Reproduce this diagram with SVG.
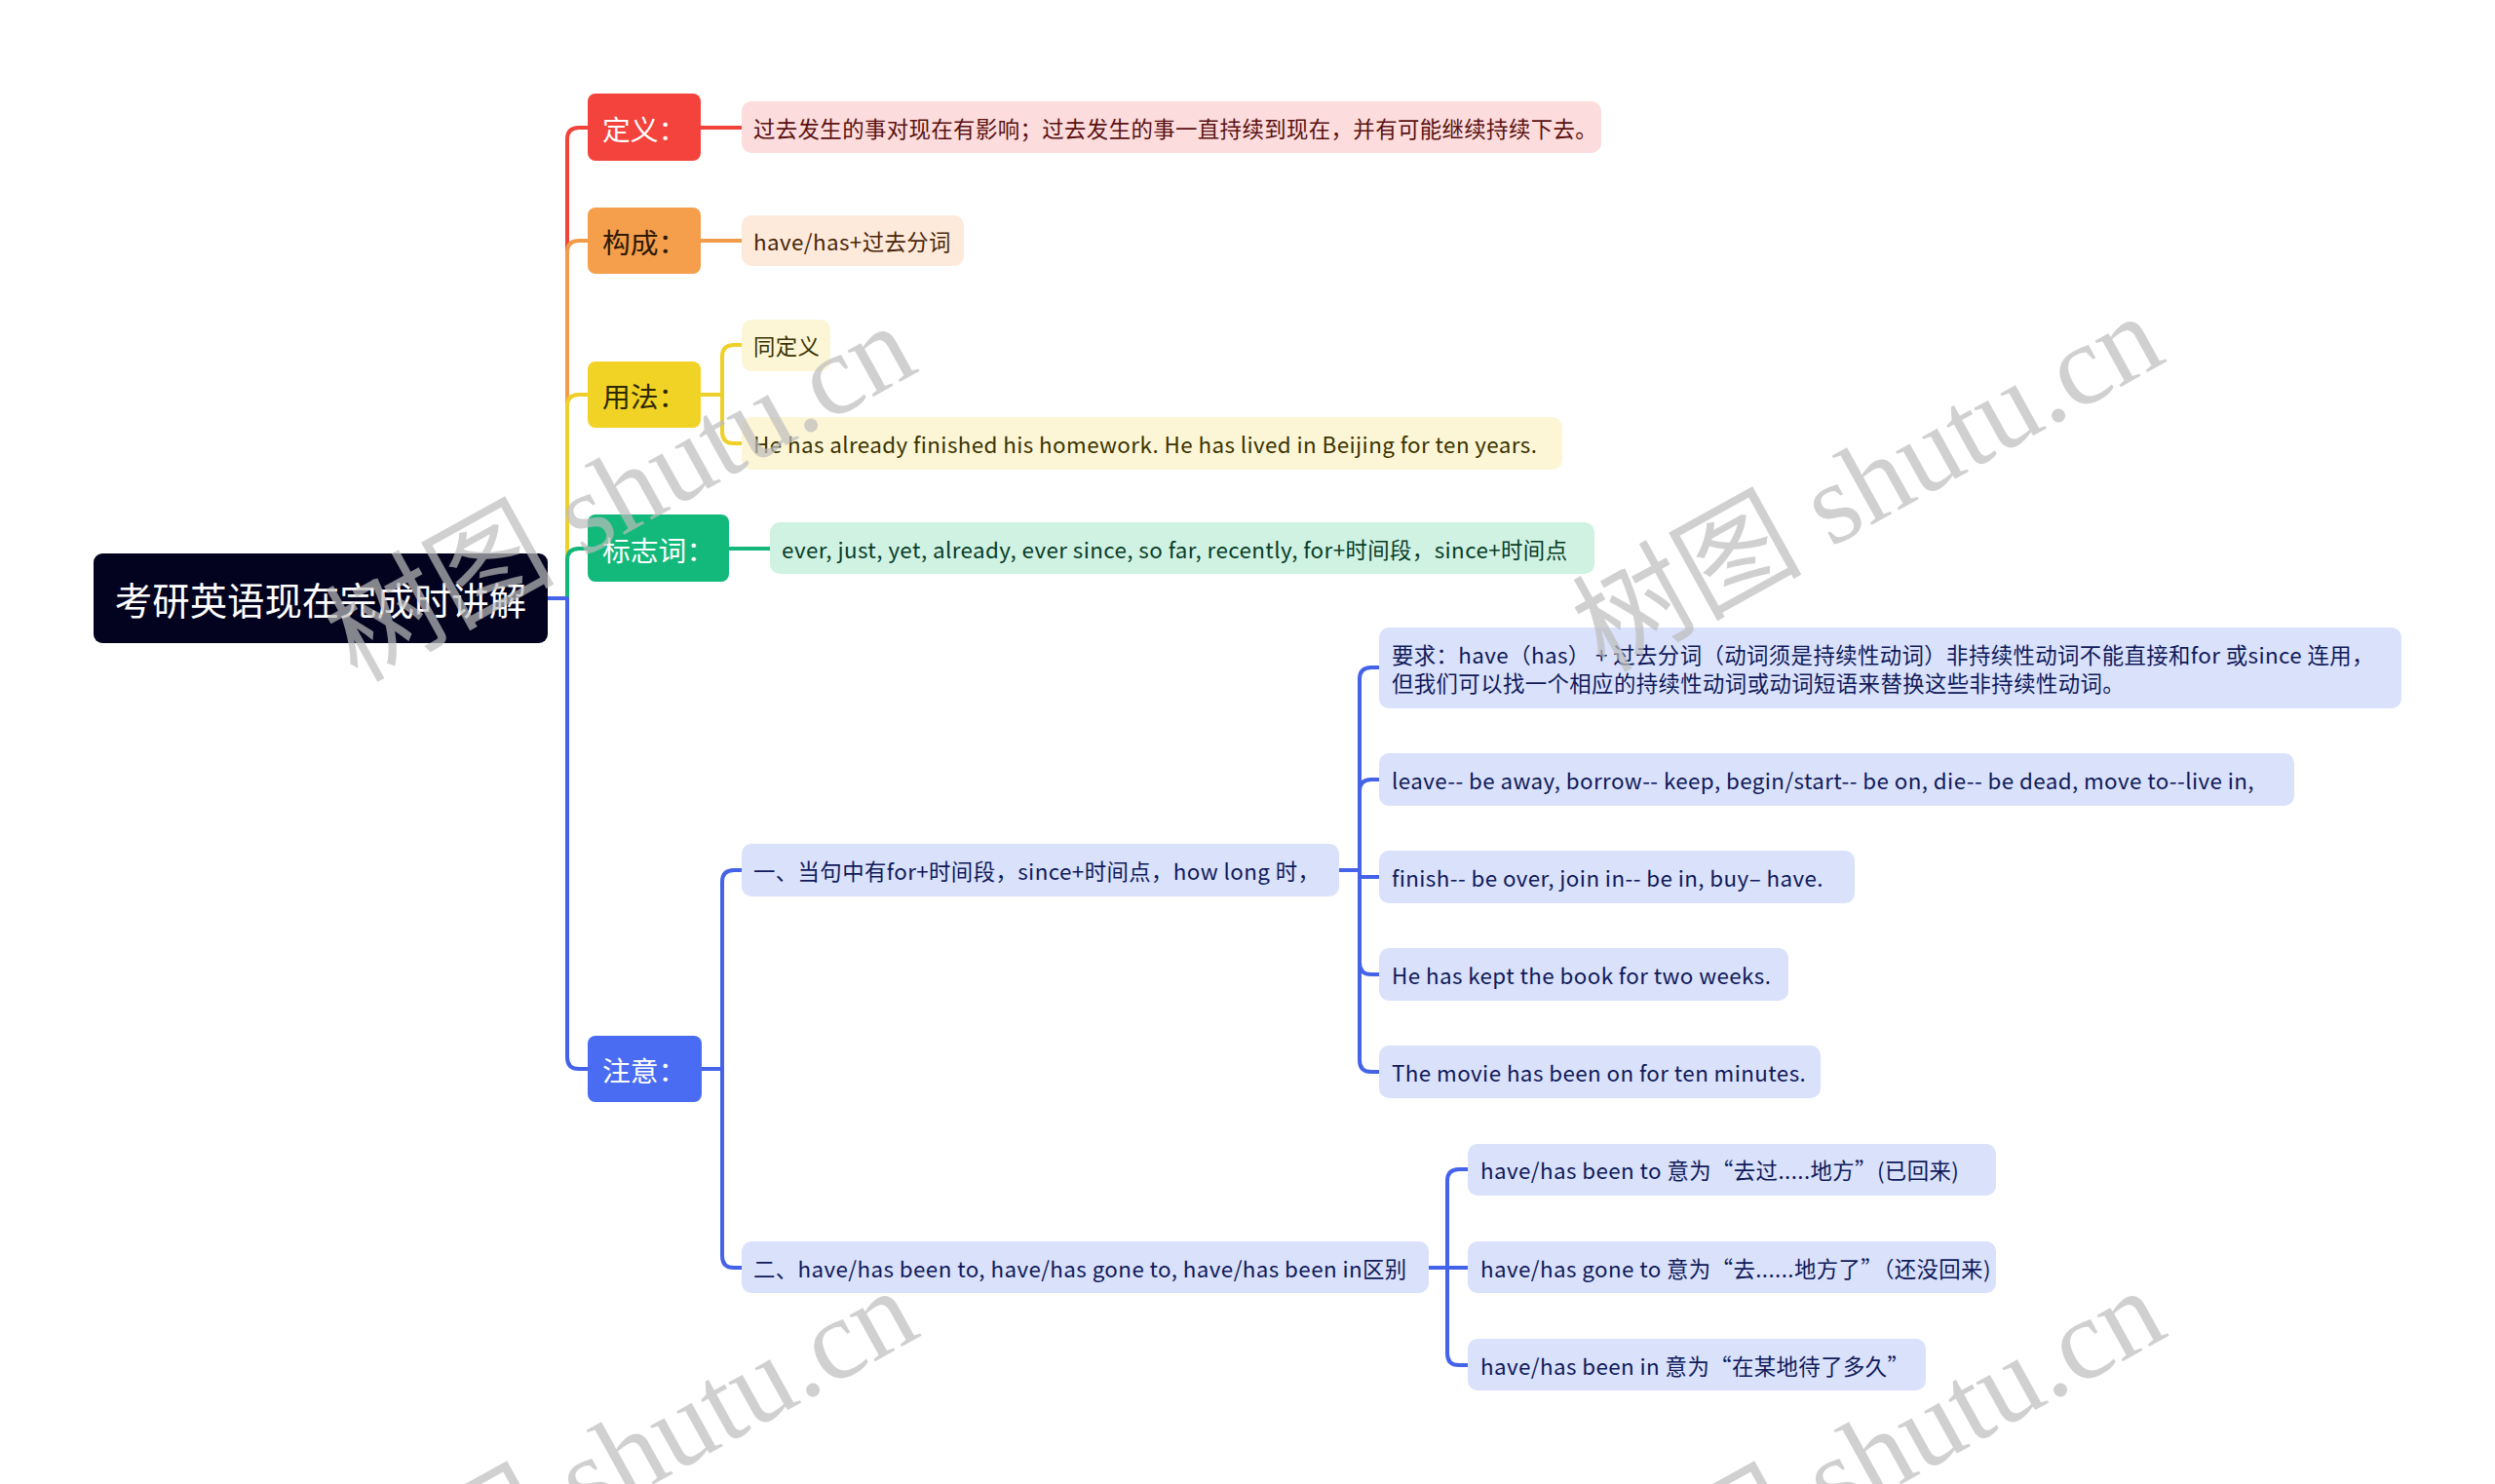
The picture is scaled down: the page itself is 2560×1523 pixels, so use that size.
<svg xmlns="http://www.w3.org/2000/svg" width="2560" height="1523" viewBox="0 0 2560 1523">
<style>
text{font-family:"Noto Sans CJK SC","Noto Sans",sans-serif;dominant-baseline:central}
.root{font-size:38.4px;fill:#ffffff}
.l1{font-size:28.8px}
.l2{font-size:22.4px;letter-spacing:0.4px}
.w{fill:#ffffff}
.con{fill:none;stroke-width:4;stroke-linecap:butt;stroke-linejoin:round}
.wm{font-family:"Liberation Serif","Noto Sans CJK SC",serif;font-size:118px;fill:#bdbdbd;opacity:0.7;dominant-baseline:auto;letter-spacing:0}
</style>
<rect width="2560" height="1523" fill="#ffffff"/>
<g id="connectors">
<path class="con" stroke="#f0433c" d="M562 614 H582 V143 Q582 131 594 131 H603"/>
<path class="con" stroke="#f29c4b" d="M562 614 H582 V259 Q582 247 594 247 H603"/>
<path class="con" stroke="#efd02a" d="M562 614 H582 V417 Q582 405 594 405 H603"/>
<path class="con" stroke="#14b67b" d="M562 614 H582 V575 Q582 563 594 563 H603"/>
<path class="con" stroke="#4563e8" d="M562 614 H582 V1085 Q582 1097 594 1097 H603"/>
<path class="con" stroke="#f0433c" d="M719 131 H761"/>
<path class="con" stroke="#f29c4b" d="M719 247 H761"/>
<path class="con" stroke="#efd02a" d="M719 405 H741 V366 Q741 354 753 354 H761"/>
<path class="con" stroke="#efd02a" d="M719 405 H741 V443 Q741 455 753 455 H761"/>
<path class="con" stroke="#14b67b" d="M748 563 H790"/>
<path class="con" stroke="#4563e8" d="M720 1097 H741 V905 Q741 893 753 893 H761"/>
<path class="con" stroke="#4563e8" d="M720 1097 H741 V1289 Q741 1301 753 1301 H761"/>
<path class="con" stroke="#4563e8" d="M1374 893 H1395 V697 Q1395 685 1407 685 H1415"/>
<path class="con" stroke="#4563e8" d="M1374 893 H1395 V812 Q1395 800 1407 800 H1415"/>
<path class="con" stroke="#4563e8" d="M1374 893 H1395 V900 H1415"/>
<path class="con" stroke="#4563e8" d="M1374 893 H1395 V988 Q1395 1000 1407 1000 H1415"/>
<path class="con" stroke="#4563e8" d="M1374 893 H1395 V1088 Q1395 1100 1407 1100 H1415"/>
<path class="con" stroke="#4563e8" d="M1466 1301 H1485 V1212 Q1485 1200 1497 1200 H1506"/>
<path class="con" stroke="#4563e8" d="M1466 1301 H1506"/>
<path class="con" stroke="#4563e8" d="M1466 1301 H1485 V1389 Q1485 1401 1497 1401 H1506"/>
</g>
<g id="root">
<rect x="96" y="568" width="466" height="92" rx="9" fill="#03031f"/>
<text class="root" x="329" y="614" text-anchor="middle">考研英语现在完成时讲解</text>
</g>
<g id="n-dingyi">
<rect x="603" y="96" width="116" height="69" rx="8" fill="#f4433c"/>
<text class="l1 w" x="618" y="131">定义：</text>
</g>
<g id="n-goucheng">
<rect x="603" y="213" width="116" height="68" rx="8" fill="#f59e4b"/>
<text class="l1" x="618" y="247" fill="#2e1a05">构成：</text>
</g>
<g id="n-yongfa">
<rect x="603" y="371" width="116" height="68" rx="8" fill="#f1d325"/>
<text class="l1" x="618" y="405" fill="#2e2800">用法：</text>
</g>
<g id="n-biaozhici">
<rect x="603" y="528" width="145" height="69" rx="8" fill="#13b97b"/>
<text class="l1 w" x="618" y="563">标志词：</text>
</g>
<g id="n-zhuyi">
<rect x="603" y="1063" width="117" height="68" rx="8" fill="#4a6cf2"/>
<text class="l1 w" x="618" y="1097">注意：</text>
</g>
<g id="n-def-text">
<rect x="761" y="104" width="882" height="53" rx="10" fill="#fcdcdc"/>
<text class="l2" x="773" y="131" fill="#5a1010">过去发生的事对现在有影响；过去发生的事一直持续到现在，并有可能继续持续下去。</text>
</g>
<g id="n-form-text">
<rect x="761" y="221" width="228" height="52" rx="10" fill="#fdeadb"/>
<text class="l2" x="773" y="247" fill="#4a2608">have/has+过去分词</text>
</g>
<g id="n-use-1">
<rect x="761" y="328" width="91" height="53" rx="10" fill="#fdf6d6"/>
<text class="l2" x="773" y="354" fill="#3a3300">同定义</text>
</g>
<g id="n-use-2">
<rect x="761" y="428" width="842" height="54" rx="10" fill="#fdf6d6"/>
<text class="l2" x="773" y="455" fill="#3a3300">He has already finished his homework. He has lived in Beijing for ten years.</text>
</g>
<g id="n-mark-text">
<rect x="790" y="536" width="846" height="53" rx="10" fill="#d0f2e3"/>
<text class="l2" x="802" y="563" fill="#083d28">ever, just, yet, already, ever since, so far, recently, for+时间段，since+时间点</text>
</g>
<g id="n-note-1">
<rect x="761" y="866" width="613" height="54" rx="10" fill="#dae1fb"/>
<text class="l2" x="773" y="893" fill="#0f1a5a">一、当句中有for+时间段，since+时间点，how long 时，</text>
</g>
<g id="n-note-2">
<rect x="761" y="1274" width="705" height="53" rx="10" fill="#dae1fb"/>
<text class="l2" x="773" y="1301" fill="#0f1a5a">二、have/has been to, have/has gone to, have/has been in区别</text>
</g>
<g id="n-req">
<rect x="1415" y="644" width="1049" height="83" rx="10" fill="#dae1fb"/>
<text class="l2" x="1428" y="671" fill="#0f1a5a">要求：have（has） + 过去分词（动词须是持续性动词）非持续性动词不能直接和for 或since 连用，</text>
<text class="l2" x="1428" y="700" fill="#0f1a5a">但我们可以找一个相应的持续性动词或动词短语来替换这些非持续性动词。</text>
</g>
<g id="n-leave">
<rect x="1415" y="773" width="939" height="54" rx="10" fill="#dae1fb"/>
<text class="l2" x="1428" y="800" fill="#0f1a5a">leave-- be away, borrow-- keep, begin/start-- be on, die-- be dead, move to--live in,</text>
</g>
<g id="n-finish">
<rect x="1415" y="873" width="488" height="54" rx="10" fill="#dae1fb"/>
<text class="l2" x="1428" y="900" fill="#0f1a5a">finish-- be over, join in-- be in, buy– have.</text>
</g>
<g id="n-kept">
<rect x="1415" y="973" width="420" height="54" rx="10" fill="#dae1fb"/>
<text class="l2" x="1428" y="1000" fill="#0f1a5a">He has kept the book for two weeks.</text>
</g>
<g id="n-movie">
<rect x="1415" y="1073" width="453" height="54" rx="10" fill="#dae1fb"/>
<text class="l2" x="1428" y="1100" fill="#0f1a5a">The movie has been on for ten minutes.</text>
</g>
<g id="n-beento">
<rect x="1506" y="1174" width="542" height="53" rx="10" fill="#dae1fb"/>
<text class="l2" x="1519" y="1200" fill="#0f1a5a">have/has been to 意为“去过.....地方”(已回来)</text>
</g>
<g id="n-goneto">
<rect x="1506" y="1274" width="542" height="53" rx="10" fill="#dae1fb"/>
<text class="l2" x="1519" y="1301" fill="#0f1a5a">have/has gone to 意为“去......地方了”（还没回来)</text>
</g>
<g id="n-beenin">
<rect x="1506" y="1374" width="470" height="53" rx="10" fill="#dae1fb"/>
<text class="l2" x="1519" y="1401" fill="#0f1a5a">have/has been in  意为“在某地待了多久”</text>
</g>
<g id="watermarks">
<text class="wm" x="945" y="380" text-anchor="end" transform="rotate(-29 945 380)">树图 shutu.cn</text>
<text class="wm" x="2225" y="370" text-anchor="end" transform="rotate(-29 2225 370)">树图 shutu.cn</text>
<text class="wm" x="947" y="1370" text-anchor="end" transform="rotate(-29 947 1370)">树图 shutu.cn</text>
<text class="wm" x="2227" y="1370" text-anchor="end" transform="rotate(-29 2227 1370)">树图 shutu.cn</text>
</g>
</svg>
